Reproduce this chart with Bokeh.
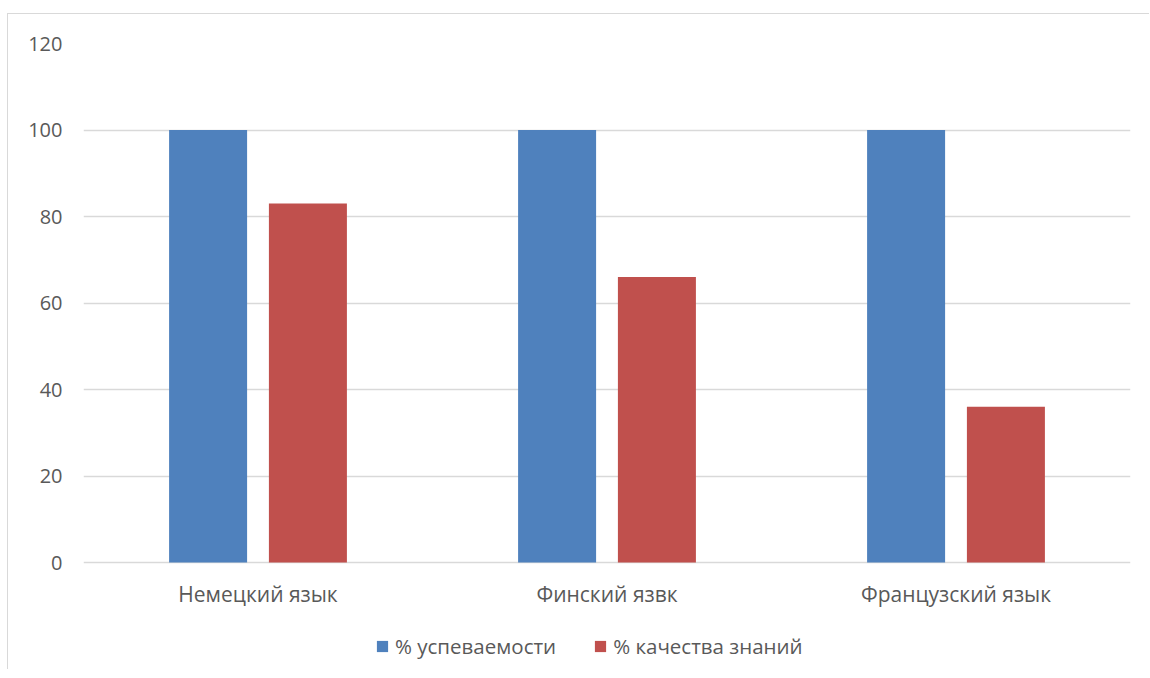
from bokeh.plotting import figure
from bokeh.models import FactorRange, Range1d, FixedTicker, Legend, LegendItem, ColumnDataSource
from bokeh.transform import dodge
from bokeh.core.properties import value
from bokeh.embed import file_html
from bokeh.resources import INLINE

categories = ["Немецкий язык", "Финский язвк", "Французский язык"]
success = [100, 100, 100]
quality = [83, 66, 36]
series_names = ["% успеваемости", "% качества знаний"]
y_ticks = [0, 20, 40, 60, 80, 100, 120]

BLUE = "#4f81bd"
RED = "#c0504d"
TXT = "#595959"
GRID = "#d9d9d9"
FONT = "Open Sans"

src = ColumnDataSource(dict(cat=categories, success=success, quality=quality,
                            label_y=[-7.3] * len(categories)))

p = figure(width=1142, height=656, x_range=FactorRange(*categories), y_range=Range1d(-24.5, 120),
           output_backend="svg", toolbar_location=None,
           min_border_left=75, min_border_right=20, min_border_top=29, min_border_bottom=2)
p.styles = {"margin-top": "13px", "margin-left": "7px",
            "border-top": "1px solid #d9d9d9", "border-left": "1px solid #d9d9d9"}
p.x_range.range_padding = 0
p.outline_line_color = None
p.background_fill_color = "white"
p.border_fill_color = "white"

r1 = p.vbar(x=dodge("cat", -0.143, range=p.x_range), top="success", width=0.2235, source=src,
            fill_color=BLUE, line_color=None)
r2 = p.vbar(x=dodge("cat", 0.143, range=p.x_range), top="quality", width=0.2235, source=src,
            fill_color=RED, line_color=None)

p.text(x="cat", y="label_y", text="cat", source=src, text_align="center", text_baseline="middle",
       text_color=TXT, text_font=value(FONT), text_font_size="21px")

p.xaxis.visible = False
p.xgrid.grid_line_color = None
p.ygrid.grid_line_color = GRID
p.ygrid.grid_line_width = 1.3
p.ygrid.ticker = FixedTicker(ticks=y_ticks)

p.yaxis.ticker = FixedTicker(ticks=y_ticks)
p.yaxis.axis_line_color = None
p.yaxis.major_tick_line_color = None
p.yaxis.minor_tick_line_color = None
p.yaxis.major_label_text_color = TXT
p.yaxis.major_label_text_font = FONT
p.yaxis.major_label_text_font_size = "20px"
p.yaxis.major_label_standoff = 15

legend = Legend(items=[LegendItem(label=series_names[0], renderers=[r1]),
                       LegendItem(label=series_names[1], renderers=[r2])],
                orientation="horizontal", location=(292, 8),
                glyph_width=14, glyph_height=14, label_standoff=6, spacing=37,
                padding=0, margin=0, border_line_color=None, background_fill_alpha=0,
                label_text_color=TXT, label_text_font=FONT, label_text_font_size="20.5px")
p.add_layout(legend, "center")

open("out.html", "w").write(file_html(p, INLINE))
